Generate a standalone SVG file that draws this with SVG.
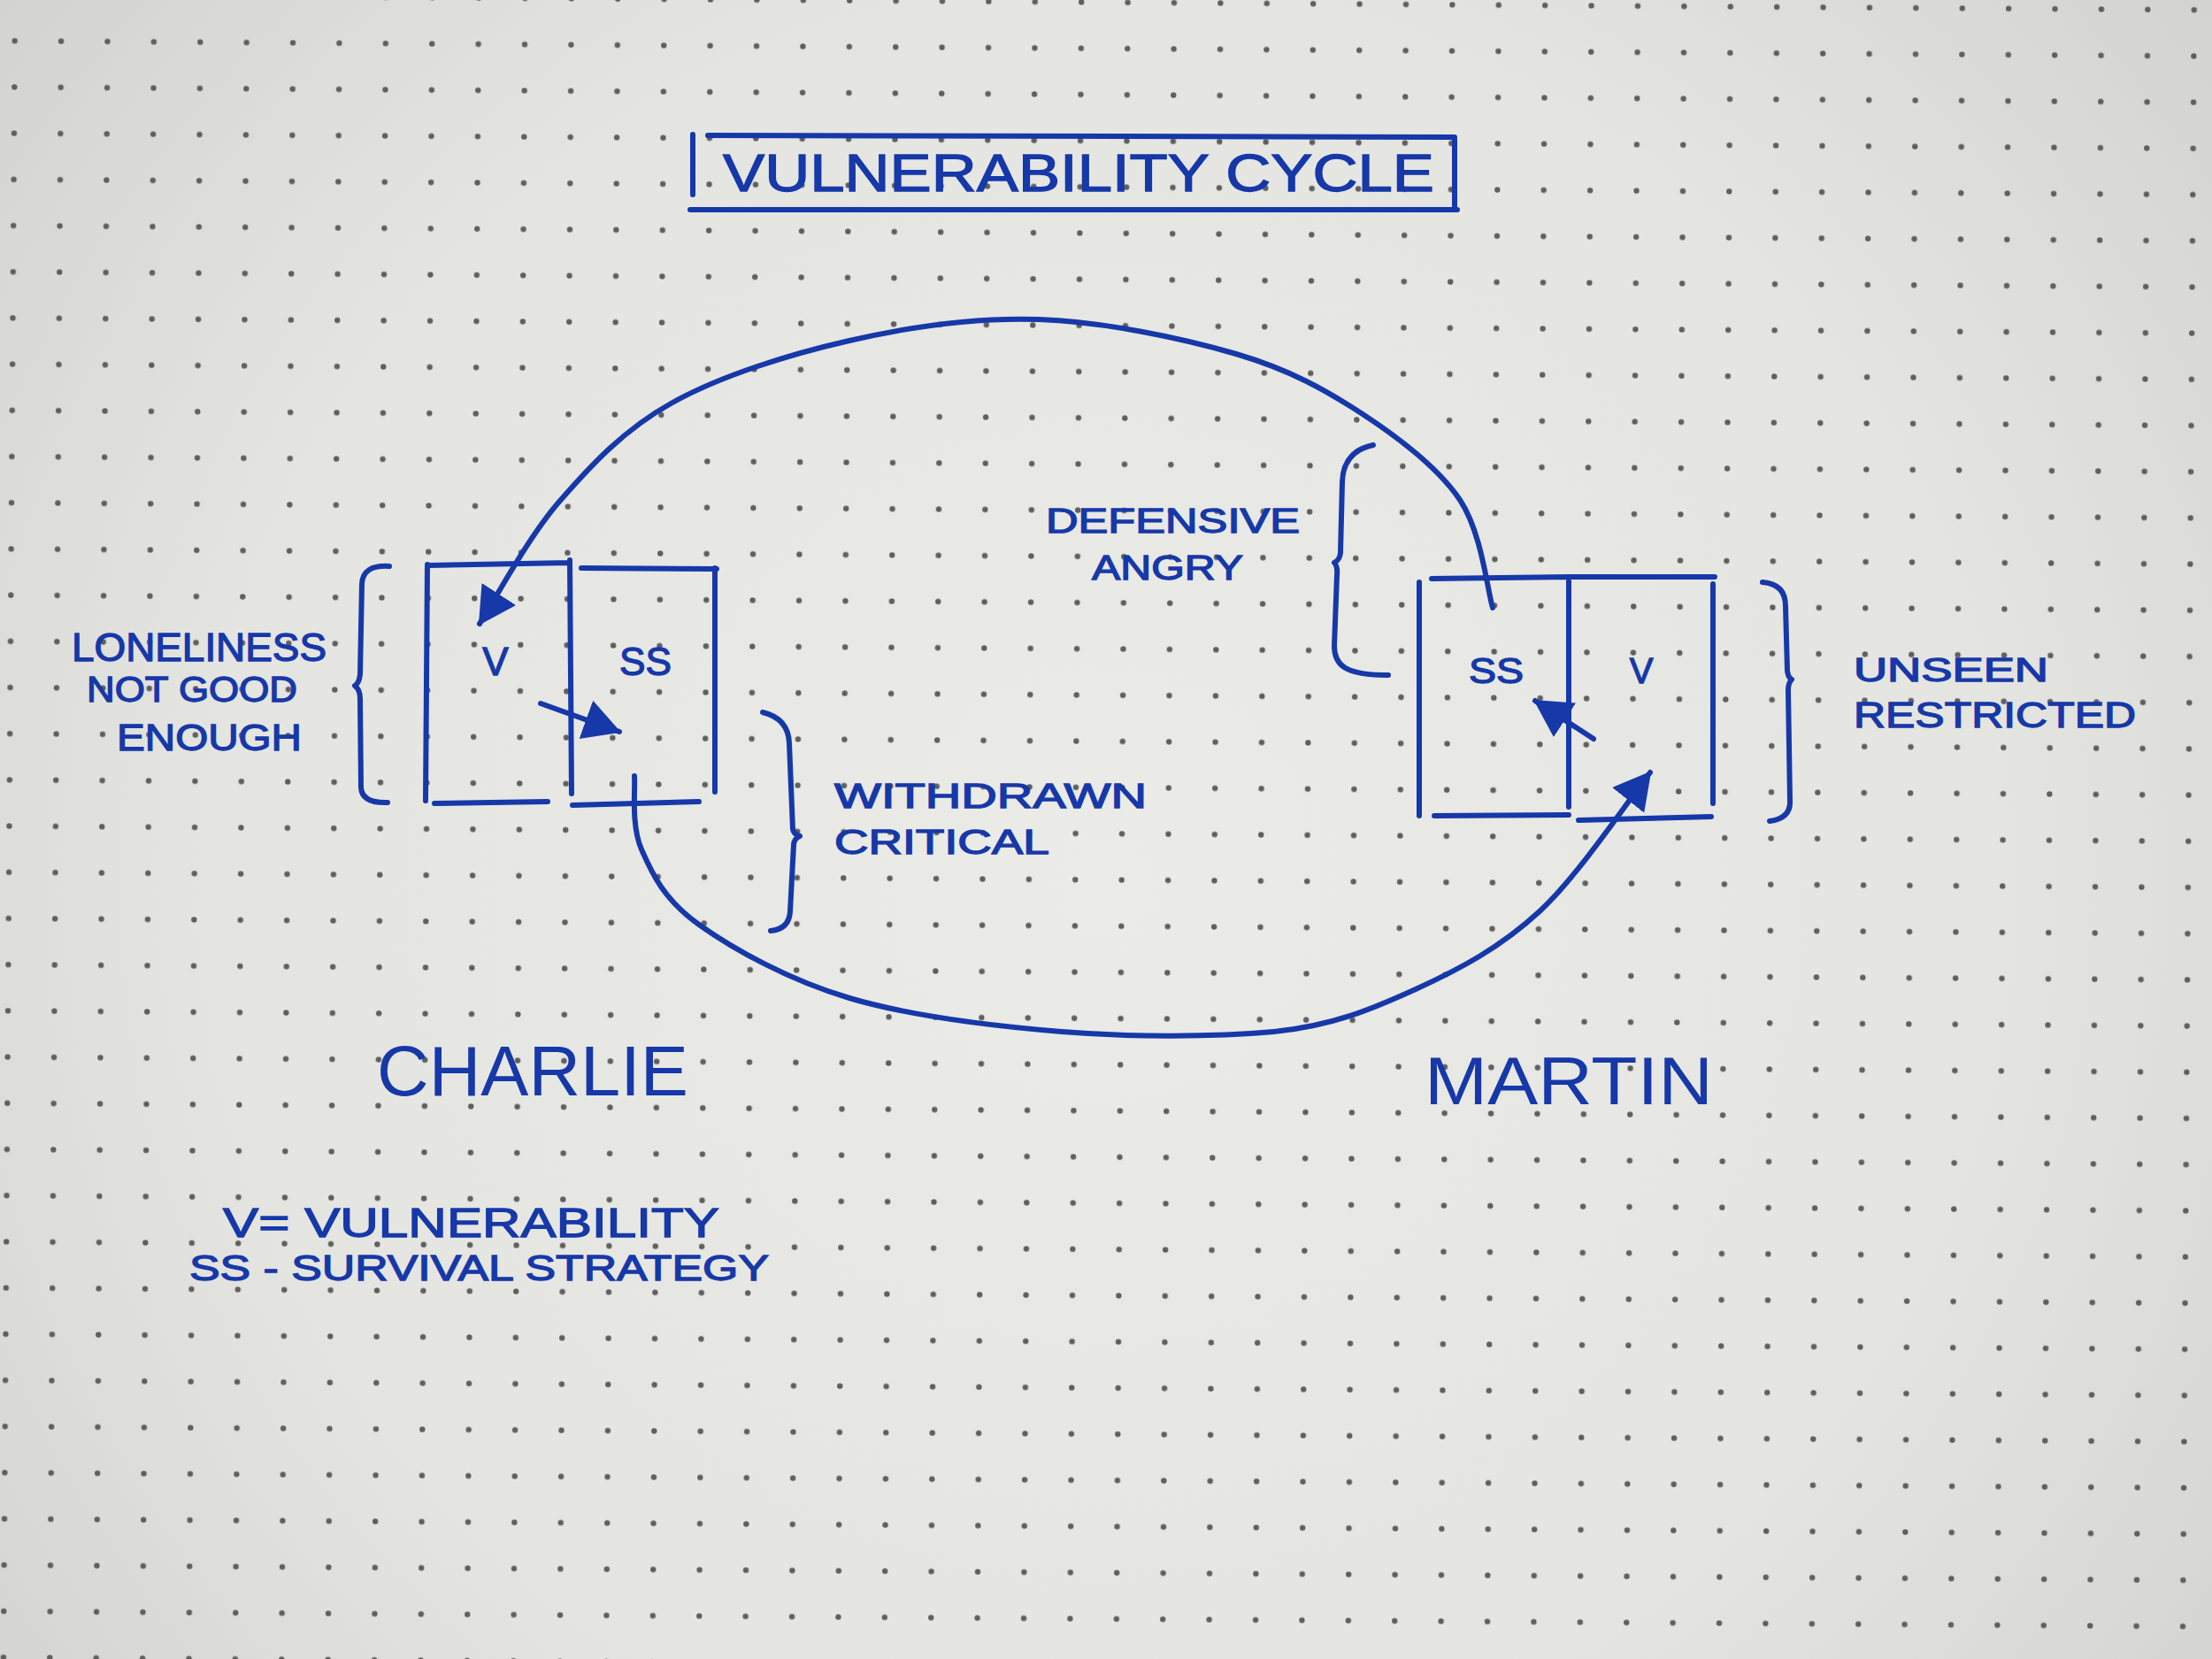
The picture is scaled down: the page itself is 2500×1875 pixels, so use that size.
<svg xmlns="http://www.w3.org/2000/svg" width="2500" height="1875" viewBox="0 0 2500 1875">
<defs>
<radialGradient id="paper" cx="1250" cy="1000" r="1700" gradientUnits="userSpaceOnUse">
<stop offset="0" stop-color="#ebebe8"/>
<stop offset="0.6" stop-color="#e4e4e1"/>
<stop offset="1" stop-color="#d0d0cc"/>
</radialGradient>
<pattern id="dots" width="52.4" height="52.2" patternUnits="userSpaceOnUse" x="-9" y="20" patternTransform="rotate(0.4)">
<circle cx="26" cy="26" r="3.2" fill="#5f5f5f"/>
</pattern>
<marker id="ah" markerUnits="userSpaceOnUse" markerWidth="44" markerHeight="50" refX="40" refY="25" orient="auto">
<path d="M0,2 L42,25 L0,48 Z" fill="#1638a8"/>
</marker>
<style>
.ink{stroke:#1638a8;fill:none;stroke-width:6;stroke-linecap:round;stroke-linejoin:round}
.t{font-family:"Liberation Sans",Arial,sans-serif;fill:#1638a8;stroke:#1638a8;stroke-width:1.3}
.big{stroke-width:0}
</style>
</defs>
<rect width="2500" height="1875" fill="url(#paper)"/>
<rect width="2500" height="1875" fill="url(#dots)"/>

<g id="title">
<path class="ink" d="M800,153 L1644,155 M783,152 L783,220 M780,237 L1647,237 M1644,157 L1644,237"/>
<text class="t" x="817" y="216" font-size="60" textLength="804" lengthAdjust="spacingAndGlyphs">VULNERABILITY CYCLE</text>
</g>

<g id="charlie-v">
<path class="ink" d="M483,638 L481,905 M483,639 L644,636 M644,633 L646,897 M491,908 L619,906"/>
<text class="t" x="560" y="763" font-size="44" text-anchor="middle">V</text>
</g>
<g id="charlie-ss">
<path class="ink" d="M657,642 L810,643 M808,642 L808,895 M647,910 L790,906"/>
<text class="t" x="700" y="763" font-size="44" textLength="59" lengthAdjust="spacingAndGlyphs">SS</text>
</g>
<g id="charlie-v-label">
<path class="ink" d="M440,640 Q410,638 409,660 L407,762 Q406,772 401,775 Q407,779 407,790 L408,890 Q409,908 438,907"/>
<text class="t" x="81" y="747" font-size="44" textLength="288" lengthAdjust="spacingAndGlyphs">LONELINESS</text>
<text class="t" x="98" y="793" font-size="40" textLength="238" lengthAdjust="spacingAndGlyphs">NOT GOOD</text>
<text class="t" x="132" y="848" font-size="42" textLength="209" lengthAdjust="spacingAndGlyphs">ENOUGH</text>
</g>
<g id="charlie-ss-label">
<path class="ink" d="M862,805 Q891,812 892,840 L896,937 Q897,943 904,945 Q897,948 897,955 L893,1030 Q892,1050 871,1052"/>
<text class="t" x="943" y="913" font-size="38" textLength="353" lengthAdjust="spacingAndGlyphs">WITHDRAWN</text>
<text class="t" x="943" y="965" font-size="38" textLength="243" lengthAdjust="spacingAndGlyphs">CRITICAL</text>
</g>
<g id="charlie-name">
<text class="t big" x="426" y="1238" font-size="80" textLength="352" lengthAdjust="spacingAndGlyphs">CHARLIE</text>
</g>

<g id="martin-ss">
<path class="ink" d="M1618,654 L1773,652 M1604,658 L1604,922 M1773,657 L1773,912 M1621,922 L1773,921"/>
<text class="t" x="1660" y="772" font-size="40" textLength="62" lengthAdjust="spacingAndGlyphs">SS</text>
</g>
<g id="martin-v">
<path class="ink" d="M1773,652 L1938,652 M1936,660 L1936,908 M1784,927 L1934,923"/>
<text class="t" x="1855" y="772" font-size="40" text-anchor="middle">V</text>
</g>
<g id="martin-ss-label">
<path class="ink" d="M1552,503 Q1518,510 1517,545 L1515,625 Q1514,633 1508,636 Q1512,640 1511,650 L1508,730 C1508,752 1520,763 1569,763"/>
<text class="t" x="1182" y="602" font-size="38" textLength="287" lengthAdjust="spacingAndGlyphs">DEFENSIVE</text>
<text class="t" x="1234" y="655" font-size="38" textLength="171" lengthAdjust="spacingAndGlyphs">ANGRY</text>
</g>
<g id="martin-v-label">
<path class="ink" d="M1992,658 Q2018,660 2018,685 L2020,758 Q2021,766 2025,768 Q2021,772 2021,780 L2023,905 Q2024,925 2000,928"/>
<text class="t" x="2095" y="770" font-size="36" textLength="220" lengthAdjust="spacingAndGlyphs">UNSEEN</text>
<text class="t" x="2095" y="822" font-size="40" textLength="319" lengthAdjust="spacingAndGlyphs">RESTRICTED</text>
</g>
<g id="martin-name">
<text class="t big" x="1610" y="1248" font-size="76" textLength="326" lengthAdjust="spacingAndGlyphs">MARTIN</text>
</g>

<g id="legend">
<text class="t" x="252" y="1398" font-size="46" textLength="561" lengthAdjust="spacingAndGlyphs">V= VULNERABILITY</text>
<text class="t" x="214" y="1447" font-size="40" textLength="655" lengthAdjust="spacingAndGlyphs">SS - SURVIVAL STRATEGY</text>
</g>

<g id="connectors">
<path class="ink" marker-end="url(#ah)" d="M1687,687 C1681,667 1674.5,601.5 1650,565 C1625.5,528.5 1582,495.5 1540,468 C1498,440.5 1458,418 1397,400 C1336,382 1247,363.5 1174,361 C1101,358.5 1029,369 960,385 C891,400.7 814.7,424.7 760,455 C705.3,485.3 668.3,525.3 632,567 C595.7,608.7 557,682 542,705"/>
<path class="ink" marker-end="url(#ah)" d="M717,877 C718.3,890.8 712.8,932 725,960 C737.2,988 750.8,1017 790,1045 C829.2,1073 891.7,1107.8 960,1128 C1028.3,1148.2 1120,1159.5 1200,1166 C1280,1172.5 1373.3,1172 1440,1166 C1506.7,1159 1550,1140.8 1600,1118 C1650,1095.2 1695.8,1070.8 1740,1030 C1784.2,989.2 1844.2,899.2 1865,873"/>
<path class="ink" marker-end="url(#ah)" d="M611,795 L700,827"/>
<path class="ink" marker-end="url(#ah)" d="M1801,835 L1735,792"/>
</g>
</svg>
